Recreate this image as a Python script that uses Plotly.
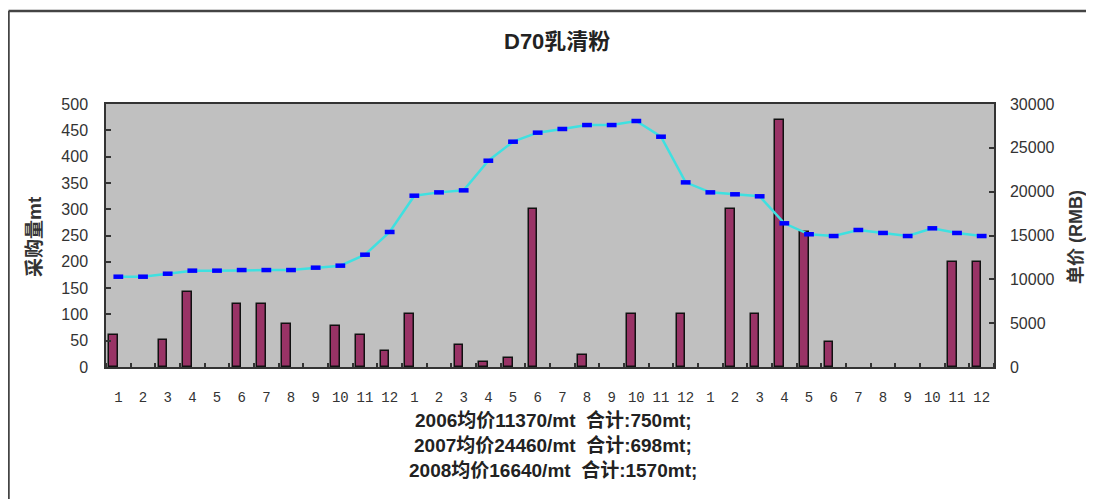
import plotly.graph_objects as go

months = [str(m) for m in range(1, 13)] * 3
qty_2006 = [60, 0, 52, 142, 0, 120, 120, 82, 0, 78, 60, 30]
qty_2007 = [100, 0, 41, 10, 17, 300, 0, 22, 0, 100, 0, 100]
qty_2008 = [0, 300, 100, 470, 257, 48, 0, 0, 0, 0, 200, 200]
price_2006 = [10300, 10300, 10640, 10990, 10990, 11060, 11060, 11060, 11330, 11560, 12810, 15400]
price_2007 = [19540, 19920, 20150, 23530, 25700, 26730, 27150, 27600, 27600, 28060, 26270, 21060]
price_2008 = [19920, 19700, 19470, 16390, 15140, 14940, 15630, 15290, 14940, 15820, 15290, 14940]
summary_lines = [
    "2006均价11370/mt  合计:750mt;",
    "2007均价24460/mt  合计:698mt;",
    "2008均价16640/mt  合计:1570mt;",
]
title_text = "D70乳清粉"
left_title = "采购量mt"
right_title = "单价 (RMB)"

qty = qty_2006 + qty_2007 + qty_2008
qty_drawn = [v if v else None for v in qty]
price = price_2006 + price_2007 + price_2008
xpos = list(range(len(months)))

FONT = "Liberation Sans, Arial, Noto Sans CJK SC, sans-serif"

# page has an 8px body margin; work in page coordinates and convert
PAGE_OFF = 8
W, H = 1094 - PAGE_OFF, 499 - PAGE_OFF
PL, PR, PT, PB = 106, 994, 104, 367          # plot area in page pixels
L, T = PL - PAGE_OFF, PT - PAGE_OFF
R, B = W - (PR - PAGE_OFF), H - (PB - PAGE_OFF)
pw, ph = PR - PL, PB - PT

def px_x(x):
    return (x - PL) / pw

def px_y(y):
    return (PB - y) / ph

fig = go.Figure()
fig.add_trace(go.Bar(
    x=xpos, y=qty_drawn, yaxis="y",
    offset=-0.37, width=0.35,
    marker=dict(color="#993366", line=dict(color="#111111", width=1.5)),
    showlegend=False,
))
fig.add_trace(go.Scatter(
    x=xpos, y=price, yaxis="y2", mode="lines+markers",
    line=dict(color="#3FE0E0", width=2.5),
    marker=dict(symbol="line-ew", size=7, color="#0000FF",
                line=dict(width=4.5, color="#0000FF")),
    showlegend=False,
))

fig.update_layout(
    width=W, height=H,
    margin=dict(l=L, r=R, t=T, b=B, autoexpand=False),
    paper_bgcolor="white",
    plot_bgcolor="#C0C0C0",
    font=dict(family=FONT, color="#222222", size=12),
    bargap=0,
    xaxis=dict(
        range=[-0.5, len(months) - 0.5], automargin=False,
        tickmode="array", tickvals=xpos, ticktext=months,
        ticks="", showgrid=False, zeroline=False,
        showline=True, linecolor="#333333", linewidth=1.5, mirror=True,
        tickfont=dict(family="Liberation Mono, Courier New, monospace", size=14, color="#333333"),
        ticklabelstandoff=16,
        minor=dict(tickmode="linear", tick0=-0.5, dtick=1, ticks="inside",
                   ticklen=4, tickcolor="#333333", tickwidth=1.5, showgrid=False),
    ),
    yaxis=dict(
        range=[0, 500], dtick=50, ticks="inside", ticklen=5, automargin=False,
        tickcolor="#333333", tickwidth=1.5,
        showgrid=False, zeroline=False,
        showline=True, linecolor="#333333", linewidth=1.5,
        tickfont=dict(size=16, color="#333333"),
        ticklabelstandoff=13,
    ),
    yaxis2=dict(
        range=[0, 30000], dtick=5000, overlaying="y", side="right", automargin=False,
        tickformat="d",
        ticks="inside", ticklen=5, tickcolor="#333333", tickwidth=1.5,
        showgrid=False, zeroline=False,
        showline=True, linecolor="#333333", linewidth=1.5,
        tickfont=dict(size=16, color="#333333"),
        ticklabelstandoff=11,
    ),
)

fig.add_annotation(text="<b>" + title_text + "</b>", xref="paper", yref="paper",
                   x=px_x(557), y=px_y(42), xanchor="center", yanchor="middle",
                   showarrow=False, font=dict(size=22, color="#222222"))
fig.add_annotation(text="<b>" + left_title + "</b>", xref="paper", yref="paper",
                   x=px_x(34), y=px_y(237), xanchor="center", yanchor="middle",
                   textangle=-90, showarrow=False, font=dict(size=19, color="#333333"))
fig.add_annotation(text="<b>" + right_title + "</b>", xref="paper", yref="paper",
                   x=px_x(1076), y=px_y(237), xanchor="center", yanchor="middle",
                   textangle=-90, showarrow=False, font=dict(size=18, color="#333333"))

for i, line in enumerate(summary_lines):
    fig.add_annotation(
        text="<b>" + line + "</b>", xref="paper", yref="paper",
        x=px_x(553), y=px_y(420 + 25 * i), xanchor="center", yanchor="middle",
        showarrow=False, font=dict(size=19, color="#222222"),
    )

# outer frame (left and top edges)
fig.add_shape(type="line", xref="paper", yref="paper",
              x0=px_x(8.5), x1=px_x(8.5), y0=px_y(510), y1=px_y(11),
              line=dict(color="#444444", width=2.5))
fig.add_shape(type="line", xref="paper", yref="paper",
              x0=px_x(8.5), x1=px_x(1100), y0=px_y(11), y1=px_y(11),
              line=dict(color="#444444", width=2.5))

fig.write_html("out.html")
